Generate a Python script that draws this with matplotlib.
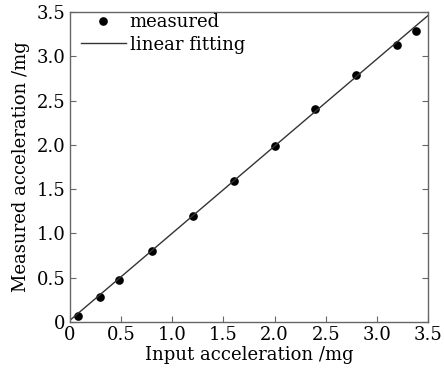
import numpy as np
import matplotlib
matplotlib.use("Agg")
import matplotlib.pyplot as plt

# measured points
input_acc = [0.08, 0.29, 0.48, 0.80, 1.20, 1.60, 2.00, 2.40, 2.80, 3.20, 3.38]
measured_acc = [0.07, 0.28, 0.47, 0.80, 1.20, 1.59, 1.99, 2.40, 2.79, 3.13, 3.28]
fit_x = [0.0, 3.5]
fit_y = [0.02, 3.46]

xticks = [0, 0.5, 1.0, 1.5, 2.0, 2.5, 3.0, 3.5]
xticklabels = ['0', '0.5', '1.0', '1.5', '2.0', '2.5', '3.0', '3.5']
yticks = [0, 0.5, 1.0, 1.5, 2.0, 2.5, 3.0, 3.5]
yticklabels = ['0', '0.5', '1.0', '1.5', '2.0', '2.5', '3.0', '3.5']

plt.rcParams['font.family'] = ['DejaVu Serif']

fig = plt.figure(figsize=(4.44, 3.74), dpi=100)
ax = fig.add_axes([70 / 444, 52 / 374, 358 / 444, 310 / 374])

ax.plot(input_acc, measured_acc, 'o', color='black', ms=5.2, label='measured')
ax.plot(fit_x, fit_y, '-', color='#333333', lw=1.0, label='linear fitting')

ax.set_xlim(0, 3.5)
ax.set_ylim(0, 3.5)
ax.set_xticks(xticks)
ax.set_xticklabels(xticklabels)
ax.set_yticks(yticks)
ax.set_yticklabels(yticklabels)
ax.tick_params(direction='in', length=4, width=0.8, color='#666666',
               labelsize=13, right=True, top=False, pad=3)
for s in ax.spines.values():
    s.set_color('#666666')
    s.set_linewidth(1.0)

ax.set_xlabel('Input acceleration /mg', fontsize=13, labelpad=1)
ax.set_ylabel('Measured acceleration /mg', fontsize=13, labelpad=5)

ax.legend(loc='upper left', frameon=False, fontsize=13, handlelength=2.5,
          handletextpad=0.2, borderaxespad=0.0, labelspacing=0.25,
          bbox_to_anchor=(0.01, 1.02))

fig.savefig('out.png', dpi=100)
